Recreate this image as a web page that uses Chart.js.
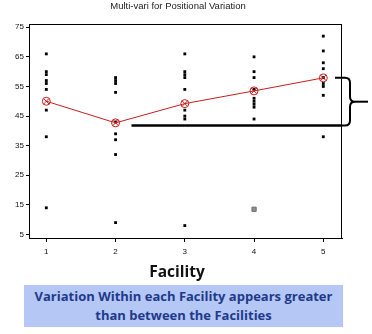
<!DOCTYPE html>
<html lang="en">
<head>
  <meta charset="UTF-8">
  <title>Multi-vari for Positional Variation</title>
  <script src="https://cdn.jsdelivr.net/npm/chart.js"></script>
  <style>
    * { box-sizing: border-box; margin: 0; padding: 0; }
    body { background: #fff; width: 372px; height: 334px; overflow: hidden; }
    #wrap { position: relative; width: 372px; height: 334px; }
    #xlabel {
      position: absolute; left: 0; top: 262px; width: 354px;
      text-align: center; font: bold 15.5px 'Open Sans', sans-serif;
      line-height: 18px; color: #111;
    }
    #note {
      position: absolute; left: 24px; top: 285px; width: 319px; height: 42px;
      background: #b4c7f5; color: #1f3a8a; text-align: center;
      font: bold 13px 'Open Sans', sans-serif; line-height: 19px; padding-top: 2px;
    }
  </style>
</head>
<body>
  <div id="wrap">
    <canvas id="chart" width="372" height="334"></canvas>
    <div id="xlabel">Facility</div>
    <div id="note">Variation Within each Facility appears greater<br>than between the Facilities</div>
  </div>

  <script>
    // readings per facility
    const facilities = [1, 2, 3, 4, 5];
    const facility1 = [66, 60, 59, 57, 56, 54, 47, 38, 14];
    const facility2 = [58, 57, 56, 53, 43, 39, 37, 32, 9];
    const facility3 = [66, 60, 59, 58, 54, 47, 45, 44, 8];
    const facility4 = [65, 60, 58, 54, 51, 50, 49, 48, 44];
    const facility5 = [72, 67, 63, 61, 58, 56, 55, 52, 38];
    const means = [50, 42.7, 49.2, 53.5, 57.9];
    const flagged = [{ x: 4, y: 13.5 }];
    const yTicks = [5, 15, 25, 35, 45, 55, 65, 75];

    const readings = [facility1, facility2, facility3, facility4, facility5];
    const points = [];
    readings.forEach((vals, i) => vals.forEach(v => points.push({ x: facilities[i], y: v })));
    const meanPoints = means.map((m, i) => ({ x: facilities[i], y: m }));

    const red = '#c81e1e';

    // box around the plot plus the brace annotation on the right
    const extras = {
      id: 'extras',
      afterDraw(chart) {
        const { ctx, chartArea: a, scales } = chart;
        ctx.save();
        ctx.strokeStyle = '#000';
        ctx.lineWidth = 1;
        ctx.strokeRect(a.left + 0.5, a.top + 0.5, a.right - a.left - 1, a.bottom - a.top);

        const yHi = scales.y.getPixelForValue(57.9);
        const yLo = scales.y.getPixelForValue(41.8);
        const mid = (yHi + yLo) / 2;
        const bx = a.right + 8;

        ctx.lineWidth = 2.5;
        ctx.beginPath();
        ctx.moveTo(scales.x.getPixelForValue(2.23), yLo);
        ctx.lineTo(a.right, yLo);
        ctx.stroke();

        ctx.lineWidth = 2;
        ctx.beginPath();
        ctx.moveTo(a.right - 7, yHi);
        ctx.lineTo(bx - 5, yHi);
        ctx.quadraticCurveTo(bx, yHi, bx, yHi + 5);
        ctx.lineTo(bx, mid - 5);
        ctx.quadraticCurveTo(bx, mid, bx + 5, mid);
        ctx.quadraticCurveTo(bx, mid, bx, mid + 5);
        ctx.lineTo(bx, yLo - 5);
        ctx.quadraticCurveTo(bx, yLo, bx - 5, yLo);
        ctx.lineTo(a.right - 1, yLo);
        ctx.stroke();

        ctx.beginPath();
        ctx.moveTo(bx + 5, mid);
        ctx.lineTo(a.right + 26, mid);
        ctx.stroke();
        ctx.restore();
      }
    };

    new Chart(document.getElementById('chart'), {
      type: 'scatter',
      data: {
        datasets: [
          {
            data: meanPoints, showLine: true, borderColor: red, borderWidth: 1,
            pointStyle: 'circle', pointRadius: 4, pointBorderColor: red,
            pointBackgroundColor: 'rgba(0,0,0,0)', pointBorderWidth: 1, order: 0
          },
          {
            data: meanPoints, showLine: false, pointStyle: 'crossRot', pointRadius: 4,
            pointBorderColor: red, pointBorderWidth: 1, order: 1
          },
          {
            data: flagged, pointStyle: 'rect', pointRadius: 3,
            pointBackgroundColor: '#8f8f8f', pointBorderColor: '#6e6e6e', pointBorderWidth: 1, order: 2
          },
          {
            data: points, pointStyle: 'rect', pointRadius: 2,
            pointBackgroundColor: '#000', pointBorderWidth: 0, order: 3
          }
        ]
      },
      options: {
        responsive: false,
        animation: false,
        devicePixelRatio: 1,
        layout: { padding: { left: 0, right: 16, top: 0, bottom: 50 } },
        plugins: {
          legend: { display: false },
          tooltip: { enabled: false },
          title: {
            display: true,
            text: 'Multi-vari for Positional Variation',
            color: '#222',
            font: { family: "'Liberation Sans', Arial, sans-serif", size: 9.5, weight: 'normal' },
            padding: { top: 1, bottom: 11.6 }
          }
        },
        scales: {
          x: {
            type: 'linear', min: 0.75, max: 5.27,
            afterBuildTicks: s => { s.ticks = facilities.map(v => ({ value: v })); },
            afterFit: s => { s.height = 46; },
            grid: { drawOnChartArea: false, drawTicks: true, tickLength: 4, color: '#000' },
            border: { display: true, color: '#000' },
            ticks: { color: '#111', padding: 5, font: { family: "'Liberation Sans', Arial, sans-serif", size: 8 } }
          },
          y: {
            type: 'linear', min: 3.8, max: 76.1,
            afterBuildTicks: s => { s.ticks = yTicks.map(v => ({ value: v })); },
            afterFit: s => { s.width = 29; },
            grid: { drawOnChartArea: false, drawTicks: true, tickLength: 3, color: '#000' },
            border: { display: true, color: '#000' },
            ticks: { color: '#111', padding: 2, font: { family: "'Liberation Sans', Arial, sans-serif", size: 8 } }
          },
          y2: {
            position: 'right', display: true,
            afterFit: s => { s.width = 14; },
            grid: { display: false }, border: { display: false }, ticks: { display: false }
          }
        }
      },
      plugins: [extras]
    });
  </script>
</body>
</html>
